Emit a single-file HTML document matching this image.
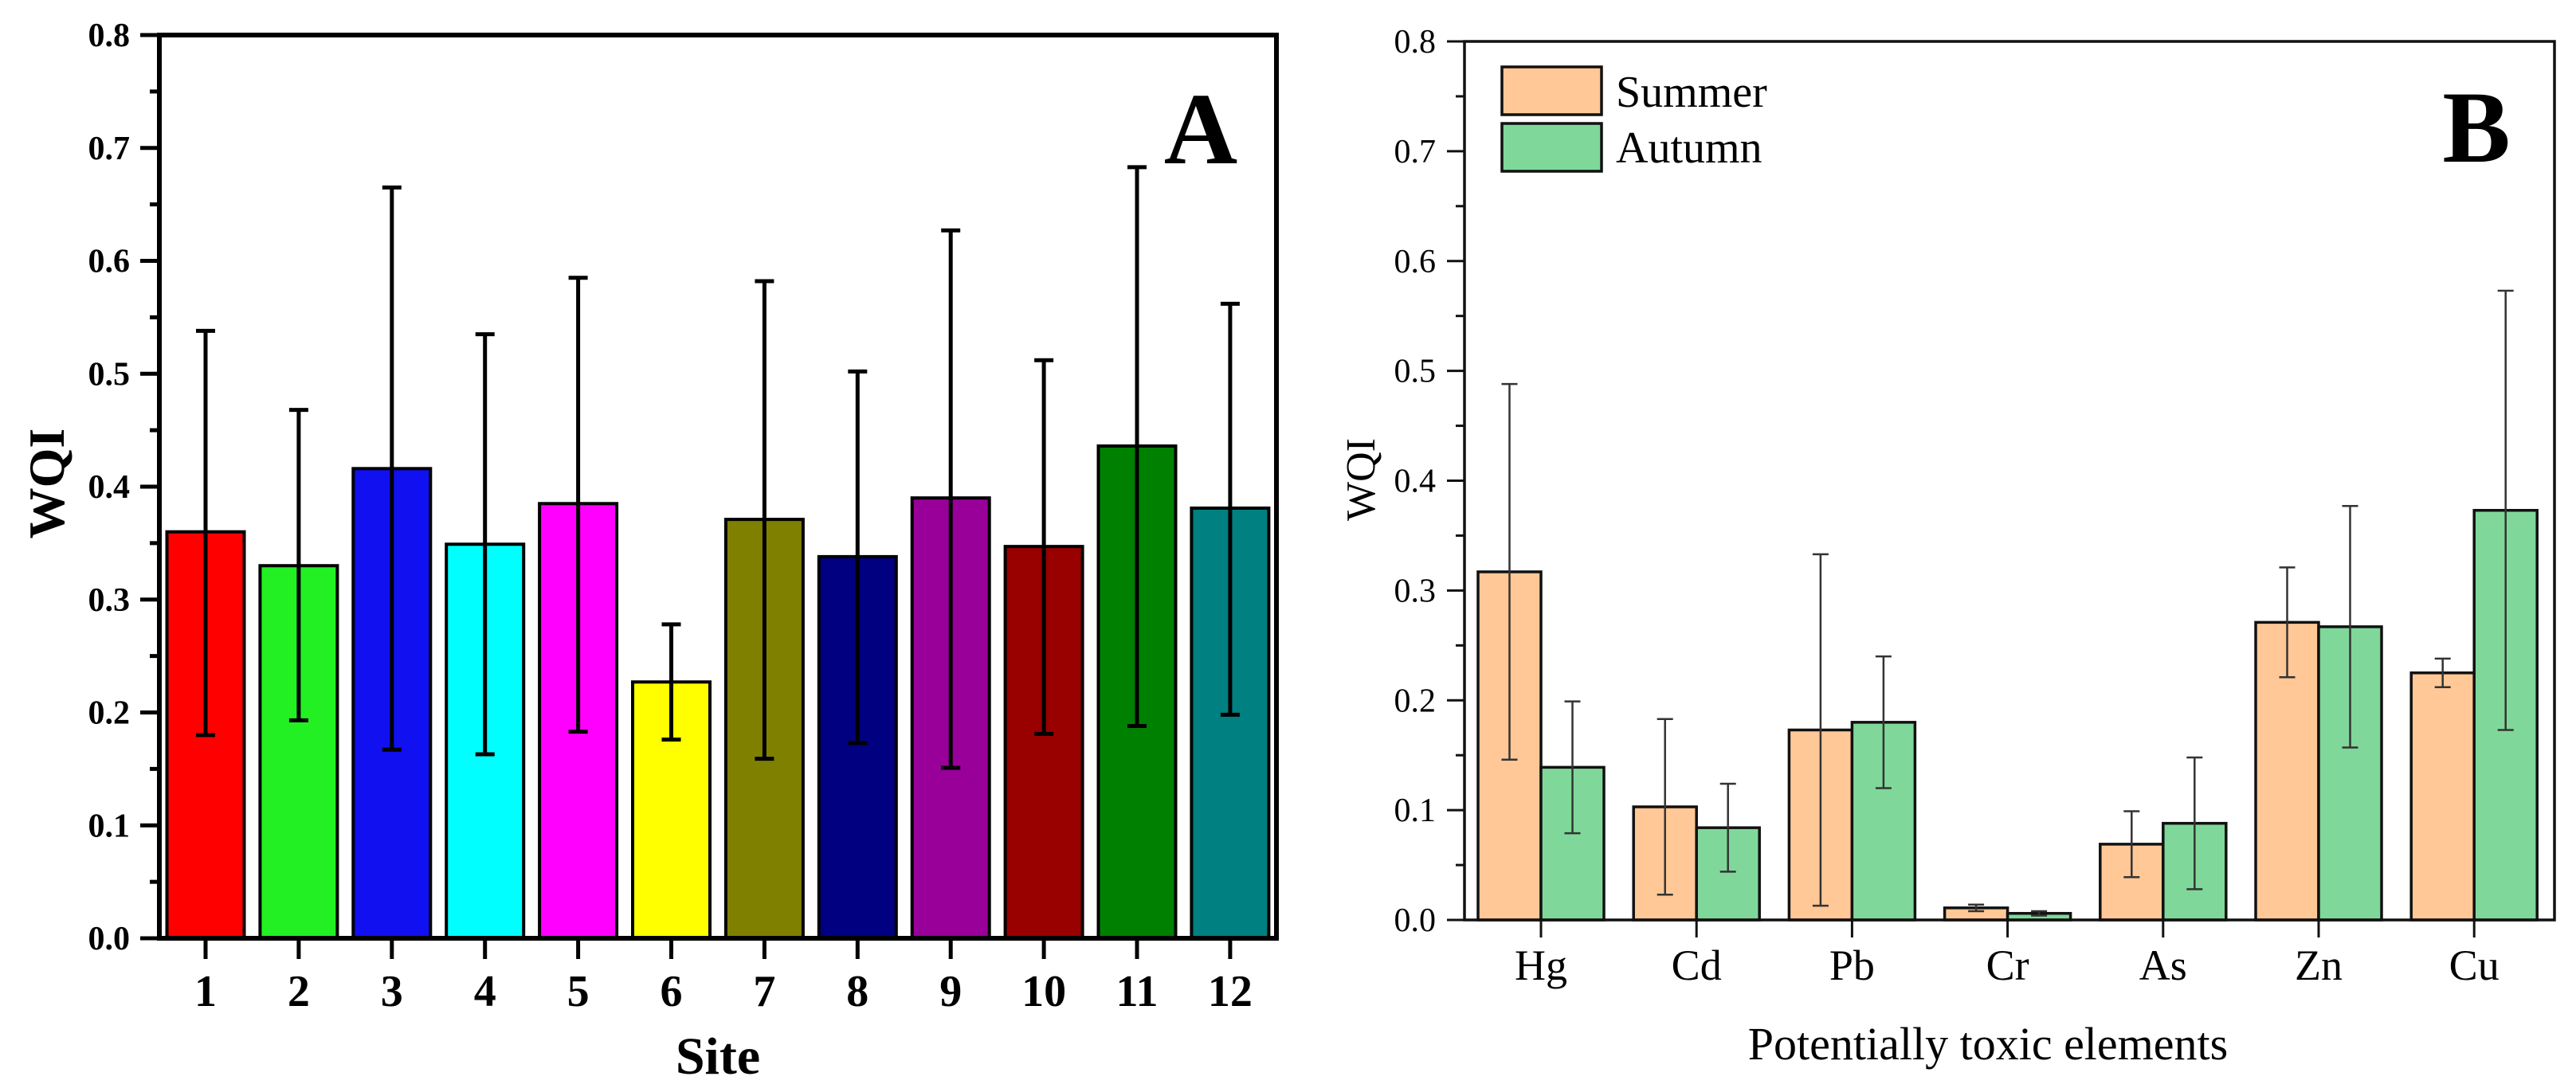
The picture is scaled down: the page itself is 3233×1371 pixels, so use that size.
<!DOCTYPE html>
<html><head><meta charset="utf-8"><style>
html,body{margin:0;padding:0;background:#fff;}
svg{display:block;}
</style></head><body>
<svg id="chart" width="3233" height="1371" viewBox="0 0 3233 1371" xmlns="http://www.w3.org/2000/svg" font-family="'Liberation Serif', serif">
<g id="panelA"></g>
<g id="panelB"></g>
</svg>
<script>
const sites = ['1','2','3','4','5','6','7','8','9','10','11','12'];
const siteValues = [0.360,0.330,0.416,0.349,0.385,0.227,0.371,0.338,0.390,0.347,0.436,0.381];
const siteUpper = [0.538,0.468,0.665,0.535,0.585,0.278,0.582,0.502,0.627,0.512,0.683,0.562];
const siteLower = [0.180,0.193,0.167,0.163,0.183,0.176,0.159,0.173,0.151,0.181,0.188,0.198];
const siteColors = ['#ff0000','#22f022','#1010f0','#00ffff','#ff00ff','#ffff00','#808000','#000080','#990099','#990000','#008000','#008080'];
const yTicks = ['0.0','0.1','0.2','0.3','0.4','0.5','0.6','0.7','0.8'];

const elements = ['Hg','Cd','Pb','Cr','As','Zn','Cu'];
const summerValues = [0.317,0.103,0.173,0.011,0.069,0.271,0.225];
const summerErr = [0.171,0.080,0.160,0.003,0.030,0.050,0.013];
const autumnValues = [0.139,0.084,0.180,0.006,0.088,0.267,0.373];
const autumnErr = [0.060,0.040,0.060,0.002,0.060,0.110,0.200];

const NS='http://www.w3.org/2000/svg';
function mk(parent, tag, attrs, text){
  const e=document.createElementNS(NS,tag);
  for(const k in attrs) e.setAttribute(k,attrs[k]);
  if(text!==undefined) e.textContent=text;
  parent.appendChild(e); return e;
}

// ---------- Panel A ----------
const A = document.getElementById('panelA');
const aL=200, aR=1602, aT=44, aB=1178;
const ayS = v => aB - v/0.8*(aB-aT);
const axS = i => 258 + i*116.9;
const aBW = 97;
for(let i=0;i<sites.length;i++){
  const x=axS(i), y=ayS(siteValues[i]);
  const r=mk(A,'rect',{x:x-aBW/2,y:y,width:aBW,height:aB-y,fill:siteColors[i],stroke:'#000','stroke-width':4});
  
  
  const e=mk(A,'path',{d:`M${x},${ayS(siteUpper[i])}V${ayS(siteLower[i])}M${x-12},${ayS(siteUpper[i])}h24M${x-12},${ayS(siteLower[i])}h24`,stroke:'#000','stroke-width':5,fill:'none'});
  
  
  const tk=mk(A,'line',{x1:x,y1:aB,x2:x,y2:aB+26,stroke:'#000','stroke-width':5});
  
  
  const t=mk(A,'text',{x:x,y:1263,'text-anchor':'middle','font-size':56,'font-weight':'bold'},sites[i]);
  
  
}
const fa=mk(A,'rect',{x:aL,y:aT,width:aR-aL,height:aB-aT,fill:'none',stroke:'#000','stroke-width':6});


for(let i=0;i<yTicks.length;i++){
  const y=ayS(i*0.1);
  const tk=mk(A,'line',{x1:aL-24,y1:y,x2:aL,y2:y,stroke:'#000','stroke-width':5});
  
  
  const t=mk(A,'text',{x:163,y:y+14,'text-anchor':'end','font-size':42,'font-weight':'bold'},yTicks[i]);
  
  
  if(i<yTicks.length-1){
    const ym=ayS(i*0.1+0.05);
    const m=mk(A,'line',{x1:aL-12,y1:ym,x2:aL,y2:ym,stroke:'#000','stroke-width':5});
    
    
  }
}
const ayt=mk(A,'text',{x:0,y:0,transform:'translate(80,607) rotate(-90)','text-anchor':'middle','font-size':64,'font-weight':'bold'},'WQI');


const axt=mk(A,'text',{x:901,y:1348,'text-anchor':'middle','font-size':66,'font-weight':'bold'},'Site');


const la=mk(A,'text',{x:1507,y:205,'text-anchor':'middle','font-size':128,'font-weight':'bold'},'A');



// ---------- Panel B ----------
const B = document.getElementById('panelB');
const bL=1838, bR=3206, bT=52, bB=1155;
const byS = v => bB - v/0.8*(bB-bT);
const bxS = i => 1934 + i*195.2;
const bBW = 79;
function errB(x,v,s,name){
  const e=mk(B,'path',{d:`M${x},${byS(v+s)}V${byS(Math.max(v-s,0))}M${x-10},${byS(v+s)}h20M${x-10},${byS(Math.max(v-s,0))}h20`,stroke:'#333','stroke-width':2.5,fill:'none'});
  
  
}
for(let i=0;i<elements.length;i++){
  const x=bxS(i);
  const ys=byS(summerValues[i]), ya=byS(autumnValues[i]);
  const r1=mk(B,'rect',{x:x-bBW,y:ys,width:bBW,height:bB-ys,fill:'#ffc896',stroke:'#111','stroke-width':3.5});
  
  
  const r2=mk(B,'rect',{x:x,y:ya,width:bBW,height:bB-ya,fill:'#7fd89a',stroke:'#111','stroke-width':3.5});
  
  
  errB(x-bBW/2,summerValues[i],summerErr[i],'error-bar-summer-'+elements[i]);
  errB(x+bBW/2,autumnValues[i],autumnErr[i],'error-bar-autumn-'+elements[i]);
  const tk=mk(B,'line',{x1:x,y1:bB,x2:x,y2:bB+22,stroke:'#111','stroke-width':3});
  
  
  const t=mk(B,'text',{x:x,y:1230,'text-anchor':'middle','font-size':54},elements[i]);
  
  
}
const fb=mk(B,'path',{d:`M${bL},${bB}V${bT}H${bR}V${bB}Z`,fill:'none',stroke:'#111','stroke-width':3.5});


for(let i=0;i<yTicks.length;i++){
  const y=byS(i*0.1);
  const tk=mk(B,'line',{x1:bL-22,y1:y,x2:bL,y2:y,stroke:'#111','stroke-width':3});
  
  
  const t=mk(B,'text',{x:1802,y:y+14,'text-anchor':'end','font-size':42},yTicks[i]);
  
  
  if(i<yTicks.length-1){
    const ym=byS(i*0.1+0.05);
    const m=mk(B,'line',{x1:bL-11,y1:ym,x2:bL,y2:ym,stroke:'#111','stroke-width':3});
    
    
  }
}
const byt=mk(B,'text',{x:0,y:0,transform:'translate(1725,602) rotate(-90)','text-anchor':'middle','font-size':52},'WQI');


const bxt=mk(B,'text',{x:2495,y:1330,'text-anchor':'middle','font-size':58},'Potentially toxic elements');


const lb=mk(B,'text',{x:3108,y:203,'text-anchor':'middle','font-size':128,'font-weight':'bold'},'B');



const lg=mk(B,'g',{});


const ls=mk(lg,'rect',{x:1885,y:84,width:125,height:60,fill:'#ffc896',stroke:'#111','stroke-width':3.5});


const lst=mk(lg,'text',{x:2028,y:134,'font-size':56},'Summer');


const la2=mk(lg,'rect',{x:1885,y:155,width:125,height:60,fill:'#7fd89a',stroke:'#111','stroke-width':3.5});


const lat=mk(lg,'text',{x:2028,y:204,'font-size':56},'Autumn');


</script>
</body></html>
